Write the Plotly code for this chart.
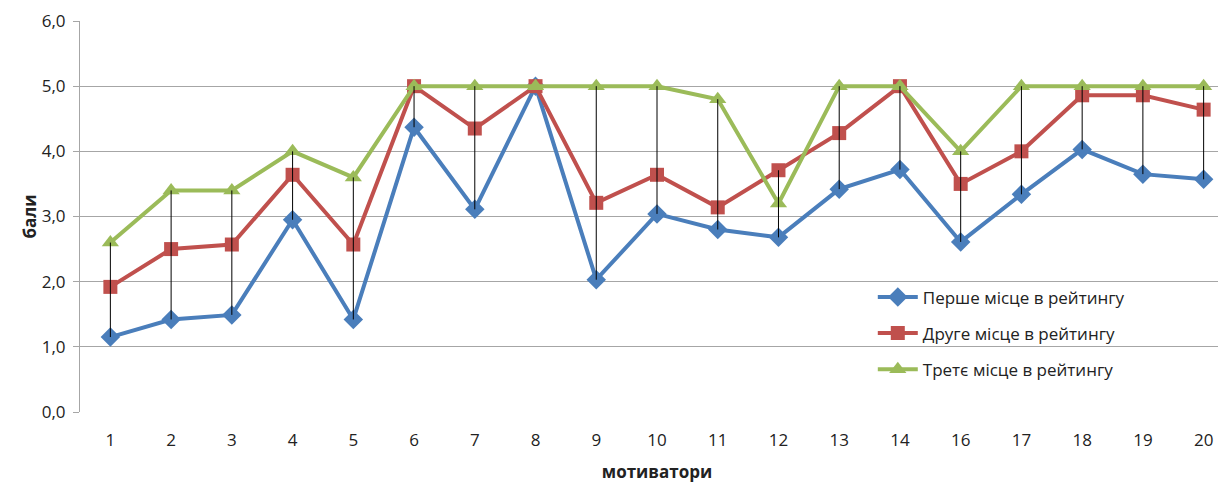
import plotly.graph_objects as go

categories = ["1", "2", "3", "4", "5", "6", "7", "8", "9", "10", "11", "12", "13", "14", "16", "17", "18", "19", "20"]
first_place = [1.15, 1.42, 1.49, 2.95, 1.42, 4.37, 3.11, 5.0, 2.03, 3.04, 2.80, 2.68, 3.42, 3.72, 2.61, 3.34, 4.03, 3.65, 3.57]
second_place = [1.92, 2.50, 2.57, 3.64, 2.57, 5.0, 4.35, 5.0, 3.21, 3.64, 3.14, 3.71, 4.28, 5.0, 3.50, 4.00, 4.86, 4.86, 4.64]
third_place = [2.60, 3.40, 3.40, 4.00, 3.60, 5.0, 5.0, 5.0, 5.0, 5.0, 4.80, 3.20, 5.0, 5.0, 4.00, 5.0, 5.0, 5.0, 5.0]
series_names = ["Перше місце в рейтингу", "Друге місце в рейтингу", "Третє місце в рейтингу"]
y_ticks = [0, 1, 2, 3, 4, 5, 6]

FONT = "Open Sans"
fig = go.Figure()
fig.add_trace(go.Scatter(x=categories, y=first_place, name=series_names[0], mode="lines+markers",
                         legendgroup="a",
                         line=dict(color="#4A7EBB", width=4),
                         marker=dict(symbol="diamond", size=15, color="#4A7EBB")))
fig.add_trace(go.Scatter(x=categories, y=second_place, name=series_names[1], mode="lines+markers",
                         legendgroup="b",
                         line=dict(color="#C0504D", width=4),
                         marker=dict(symbol="square", size=14, color="#C0504D")))
fig.add_trace(go.Scatter(x=categories, y=third_place, name=series_names[2], mode="lines+markers",
                         legendgroup="c",
                         line=dict(color="#9BBB59", width=4),
                         marker=dict(symbol="triangle-up", size=15, color="#9BBB59")))

# high-low lines
hx, hy = [], []
for c, a, b, d in zip(categories, first_place, second_place, third_place):
    hx += [c, c, None]
    hy += [min(a, b, d), max(a, b, d), None]
fig.add_trace(go.Scatter(x=hx, y=hy, mode="lines", line=dict(color="black", width=1),
                         showlegend=False, hoverinfo="skip"))

fig.update_layout(
    width=1226, height=475,
    margin=dict(l=72, r=0, t=13, b=71),
    paper_bgcolor="white", plot_bgcolor="white",
    separators=", ",
    font=dict(family=FONT, size=17, color="#222"),
    legend=dict(x=0.687, y=0.339, xanchor="left", yanchor="top", bgcolor="rgba(0,0,0,0)",
                font=dict(size=17), tracegroupgap=11, itemwidth=40, traceorder="grouped"),
    xaxis=dict(type="category", categoryorder="array", categoryarray=categories,
               range=[-0.5, 18.5], showgrid=False, showline=False, zeroline=False,
               ticks="", ticklabelstandoff=16,
               title=dict(text="<b>мотиватори</b>", standoff=16, font=dict(size=17))),
    yaxis=dict(range=[0, 6], tickvals=y_ticks, tickformat=".1f", showgrid=True,
               gridcolor="#A6A6A6", gridwidth=1, showline=True, linecolor="#A6A6A6",
               ticks="outside", ticklen=6, tickcolor="#A6A6A6", zeroline=False,
               ticklabelstandoff=4,
               title=dict(text="<b>бали</b>", standoff=0, font=dict(size=17))),
)
fig.write_html("out.html")
